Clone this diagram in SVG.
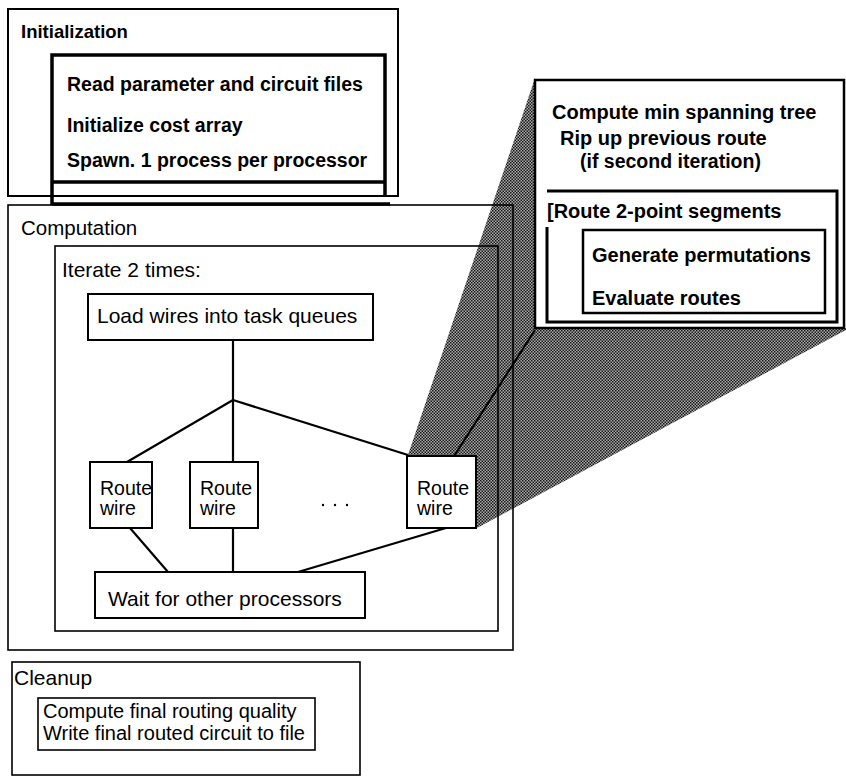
<svg xmlns="http://www.w3.org/2000/svg" width="846" height="779" viewBox="0 0 846 779">
<defs>
<pattern id="stip" width="3" height="3" patternUnits="userSpaceOnUse">
<rect width="3" height="3" fill="#a8a8a8"/>
<rect width="1.5" height="1.5" fill="#1a1a1a"/>
<rect x="1.5" y="1.5" width="1.5" height="1.5" fill="#1a1a1a"/>
</pattern>
</defs>
<style>
.frame{fill:none;stroke:#000;}
.node{fill:#fff;stroke:#000;stroke-width:2;}
.b{font-family:"Liberation Sans",Arial,sans-serif;font-weight:bold;fill:#000;}
.r{font-family:"Liberation Sans",Arial,sans-serif;fill:#000;}
.conn{stroke:#000;stroke-width:2.2;fill:none;}
</style>
<rect width="846" height="779" fill="#fff"/>

<g id="zoom-shading">
<polygon points="535,78 408,455 408,528 477,528 846,330 846,328 535,328" fill="url(#stip)"/>
<line x1="408" y1="528" x2="535" y2="330" stroke="#000" stroke-width="2"/>
</g>

<g id="initialization">
<rect class="frame" x="8" y="9" width="390" height="187" stroke-width="2"/>
<text class="b" x="21" y="38" font-size="18.5">Initialization</text>
<path class="frame" d="M52,205 V55 H385 V196 M52,182 H385 M52,204 H390" stroke-width="3.5"/>
<text class="b" x="67" y="91" font-size="19.5">Read parameter and circuit files</text>
<text class="b" x="67" y="132" font-size="19.5">Initialize cost array</text>
<text class="b" x="67" y="167" font-size="19.5">Spawn. 1 process per processor</text>
</g>

<g id="computation">
<rect class="frame" x="8" y="205" width="505" height="445" stroke-width="1.6"/>
<text class="r" x="21" y="235" font-size="20.5">Computation</text>
</g>

<g id="iterate">
<rect class="frame" x="55" y="246" width="443" height="385" stroke-width="1.6"/>
<text class="r" x="62" y="277" font-size="21">Iterate 2 times:</text>
</g>

<g id="connectors">
<path class="conn" d="M233,340 V400 M233,400 L127,462 M233,400 V462 M233,400 L408,455 M130,528 L168,572 M233,528 V572 M446,528 L298,572"/>
</g>

<g id="load">
<rect class="node" x="88" y="294" width="285" height="46"/>
<text class="r" x="97" y="323" font-size="21">Load wires into task queues</text>
</g>

<g id="route1">
<rect class="node" x="90" y="462" width="62" height="66"/>
<text class="r" x="100" y="495" font-size="19.5">Route</text>
<text class="r" x="100" y="515" font-size="19.5">wire</text>
</g>

<g id="route2">
<rect class="node" x="190" y="462" width="68" height="66"/>
<text class="r" x="200" y="495" font-size="19.5">Route</text>
<text class="r" x="200" y="515" font-size="19.5">wire</text>
</g>

<g id="ellipsis">
<circle cx="323" cy="505" r="1.2" fill="#000"/>
<circle cx="335" cy="505" r="1.2" fill="#000"/>
<circle cx="347" cy="505" r="1.2" fill="#000"/>
</g>

<g id="route3">
<rect class="node" x="407" y="456" width="69" height="72"/>
<text class="r" x="417" y="495" font-size="19.5">Route</text>
<text class="r" x="417" y="515" font-size="19.5">wire</text>
</g>

<g id="wait">
<rect class="node" x="95" y="572" width="270" height="46"/>
<text class="r" x="108" y="606" font-size="21">Wait for other processors</text>
</g>

<g id="route-detail">
<rect x="535" y="80" width="309" height="248" fill="#fff" stroke="#000" stroke-width="2.5"/>
<text class="b" x="552" y="119" font-size="20">Compute min spanning tree</text>
<text class="b" x="560" y="145" font-size="20">Rip up previous route</text>
<text class="b" x="580" y="168" font-size="19.5">(if second iteration)</text>
<path class="frame" d="M547,227 V322 H837 V191 H547" stroke-width="3"/>
<text class="b" x="547" y="218" font-size="20">[Route 2-point segments</text>
<rect class="frame" x="583" y="230" width="242" height="83" stroke-width="2.5"/>
<text class="b" x="592" y="262" font-size="20">Generate permutations</text>
<text class="b" x="592" y="305" font-size="20">Evaluate routes</text>
</g>

<g id="cleanup">
<rect class="frame" x="12" y="662" width="348" height="113" stroke-width="1.6"/>
<text class="r" x="14" y="685" font-size="21">Cleanup</text>
<rect class="frame" x="38" y="698" width="277" height="52" stroke-width="1.6"/>
<text class="r" x="43" y="718" font-size="20">Compute final routing quality</text>
<text class="r" x="43" y="740" font-size="20">Write final routed circuit to file</text>
</g>
</svg>
